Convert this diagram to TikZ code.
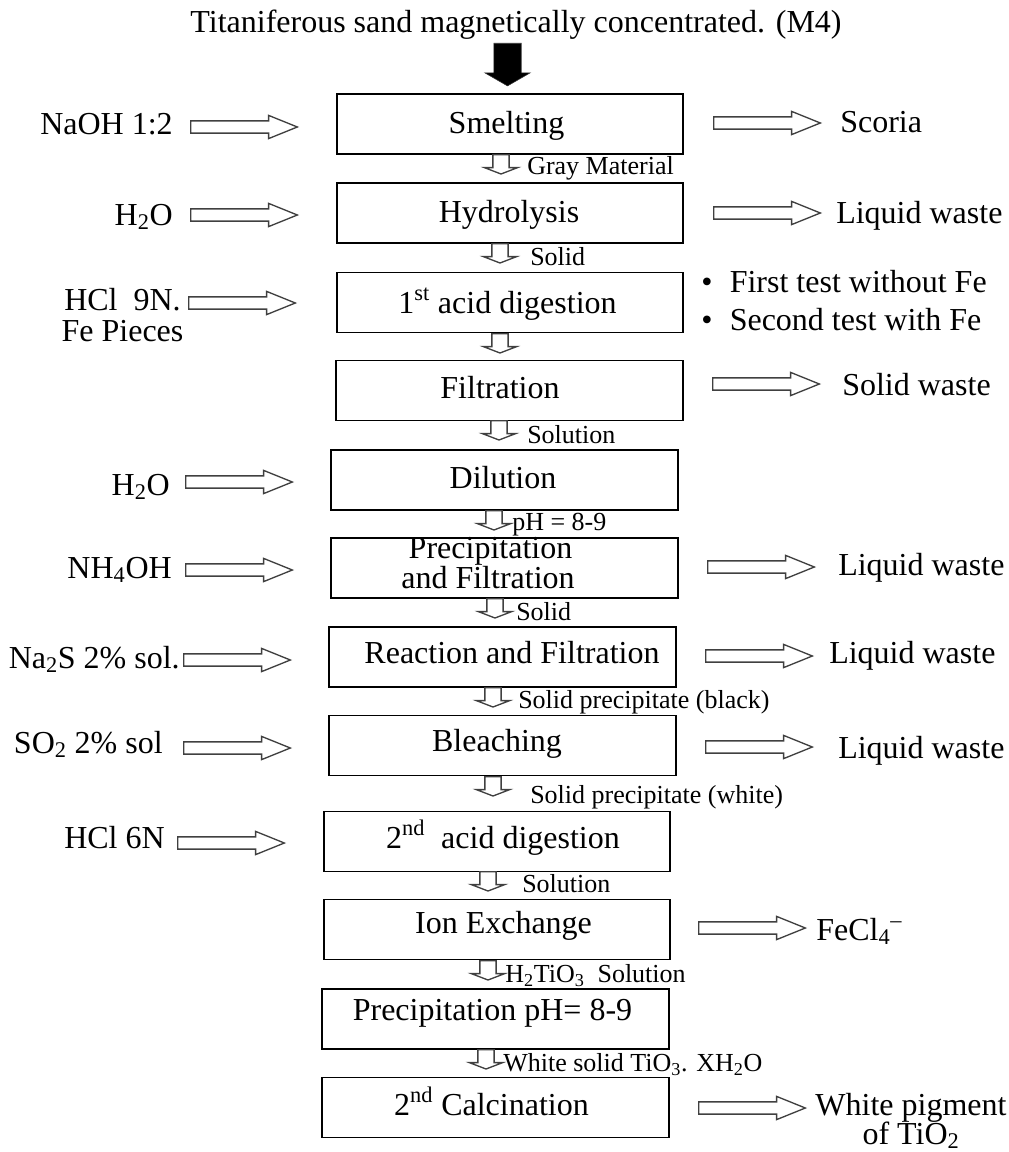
\documentclass[tikz,border=0pt]{standalone}
\usepackage{fontspec}
\setmainfont{Liberation Serif}
\usetikzlibrary{shapes.arrows}
\tikzset{
  stage/.style={draw, line width=1.3pt, minimum width=260pt, minimum height=45pt, inner sep=0pt},
  big/.style={font=\fontsize{24}{24}\selectfont, inner sep=0pt, anchor=base},
  small/.style={font=\fontsize{19.5}{22}\selectfont, inner sep=0pt, anchor=base west},
  feed/.style={single arrow, draw=black!75, line width=1pt, minimum height=80pt,
    inner xsep=0pt, inner ysep=4.1pt, single arrow head extend=4.1pt,
    single arrow tip angle=44, anchor=tail},
  drop/.style={single arrow, draw=black!75, line width=1pt, minimum height=14.5pt,
    inner xsep=5.6pt, inner ysep=0pt, single arrow head extend=6.4pt,
    single arrow tip angle=138, shape border rotate=270, anchor=tail},
  push/.style={single arrow, draw=black!80, fill=black, minimum height=32pt,
    inner xsep=10.1pt, inner ysep=0pt, single arrow head extend=6.8pt,
    single arrow tip angle=120, shape border rotate=270, anchor=tail}
}
\begin{document}
\begin{tikzpicture}[x=0.75pt,y=-0.75pt]
  \useasboundingbox (0,0) rectangle (1008,1152);
  \node[big] (sand) at (516,33) {Titaniferous sand magnetically concentrated. (M4)};
  \node[push] (in) at (507.5,43) {};

  \node[stage] (smelt) at (510,124) {};
  \node[big] (tsmelt) at (506.5,134) {Smelting};
  \node[stage] (hydro) at (510,213) {};
  \node[big] (thydro) at (509,222) {Hydrolysis};
  \node[stage] (acidA) at (510,302.5) {};
  \node[big] (tacidA) at (507.5,313) {1\textsuperscript{st} acid digestion};
  \node[stage] (filt) at (509.5,390.5) {};
  \node[big] (tfilt) at (500,398) {Filtration};
  \node[stage] (dil) at (504.5,480) {};
  \node[big] (tdil) at (503,488) {Dilution};
  \node[stage] (prec) at (504.5,568) {};
  \node[big] (tprecA) at (490.5,558) {Precipitation};
  \node[big] (tprecB) at (488,588) {and Filtration};
  \node[stage] (react) at (502.5,657) {};
  \node[big] (treact) at (512,663) {Reaction and Filtration};
  \node[stage] (bleach) at (502.5,745.5) {};
  \node[big] (tbleach) at (497,751) {Bleaching};
  \node[stage] (acidB) at (497,841.5) {};
  \node[big] (tacidB) at (503,848) {2\textsuperscript{nd}\ \ acid digestion};
  \node[stage] (ionex) at (497,929.5) {};
  \node[big] (tionex) at (503.5,933) {Ion Exchange};
  \node[stage] (precph) at (495.5,1019) {};
  \node[big] (tprecph) at (492.5,1020) {Precipitation pH= 8-9};
  \node[stage] (calc) at (495.5,1107.5) {};
  \node[big] (tcalc) at (491.5,1115) {2\textsuperscript{nd} Calcination};

  \node[drop] (d1) at (501,154) {};
  \node[small] (l1) at (527,175) {Gray Material};
  \node[drop] (d2) at (500,243) {};
  \node[small] (l2) at (530,265) {Solid};
  \node[drop] (d3) at (500,333) {};
  \node[drop] (d4) at (499,420) {};
  \node[small] (l4) at (527,443) {Solution};
  \node[drop] (d5) at (494,510) {};
  \node[small] (l5) at (512,530) {pH = 8-9};
  \node[drop] (d6) at (495,598) {};
  \node[small] (l6) at (516,620) {Solid};
  \node[drop] (d7) at (493,687) {};
  \node[small] (l7) at (518,708) {Solid precipitate (black)};
  \node[drop] (d8) at (493,776) {};
  \node[small] (l8) at (530,803) {Solid precipitate (white)};
  \node[drop] (d9) at (488,871) {};
  \node[small] (l9) at (522,892) {Solution};
  \node[drop] (d10) at (488,960) {};
  \node[small] (l10) at (505,982) {H\textsubscript{2}TiO\textsubscript{3}\ \ Solution};
  \node[drop] (d11) at (486,1049) {};
  \node[small] (l11) at (503,1071) {White solid TiO\textsubscript{3}. XH\textsubscript{2}O};

  \node[big, anchor=base east] (naoh) at (173,135) {NaOH 1:2};
  \node[feed] (fnaoh) at (190,127) {};
  \node[big, anchor=base east] (waterA) at (173,225) {H\textsubscript{2}O};
  \node[feed] (fwaterA) at (190,215) {};
  \node[big] (hclA) at (122.5,310) {HCl\ \ 9N.};
  \node[big] (iron) at (122.5,341) {Fe Pieces};
  \node[feed] (fhclA) at (188,303) {};
  \node[big, anchor=base east] (waterB) at (170,495) {H\textsubscript{2}O};
  \node[feed] (fwaterB) at (185,482) {};
  \node[big, anchor=base east] (ammon) at (172,578) {NH\textsubscript{4}OH};
  \node[feed] (fammon) at (185,570) {};
  \node[big, anchor=base east] (sulf) at (180,668) {Na\textsubscript{2}S 2\% sol.};
  \node[feed] (fsulf) at (183,660) {};
  \node[big, anchor=base east] (sodio) at (163,753) {SO\textsubscript{2} 2\% sol};
  \node[feed] (fsodio) at (183,748) {};
  \node[big, anchor=base east] (hclB) at (165,848) {HCl 6N};
  \node[feed] (fhclB) at (177,843) {};

  \node[feed] (fscoria) at (713,123) {};
  \node[big, anchor=base west] (scoria) at (840,133) {Scoria};
  \node[feed] (fliqA) at (713,213) {};
  \node[big, anchor=base west] (liqA) at (836,223) {Liquid waste};
  \node[big, anchor=base west] (testA) at (701,292) {\textbullet\hspace{13pt}First test without Fe};
  \node[big, anchor=base west] (testB) at (701,330) {\textbullet\hspace{13pt}Second test with Fe};
  \node[feed] (fsolw) at (712,384) {};
  \node[big, anchor=base west] (solw) at (842,395) {Solid waste};
  \node[feed] (fliqB) at (707,567) {};
  \node[big, anchor=base west] (liqB) at (838,575) {Liquid waste};
  \node[feed] (fliqC) at (705,656) {};
  \node[big, anchor=base west] (liqC) at (829,663) {Liquid waste};
  \node[feed] (fliqD) at (705,747) {};
  \node[big, anchor=base west] (liqD) at (838,758) {Liquid waste};
  \node[feed] (ffecl) at (698,928) {};
  \node[big, anchor=base west] (fecl) at (816,940) {FeCl\textsubscript{4}\textsuperscript{--}};
  \node[feed] (fpig) at (698,1108) {};
  \node[big] (pigA) at (911,1115) {White pigment};
  \node[big] (pigB) at (911,1144) {of TiO\textsubscript{2}};
\end{tikzpicture}
\end{document}
